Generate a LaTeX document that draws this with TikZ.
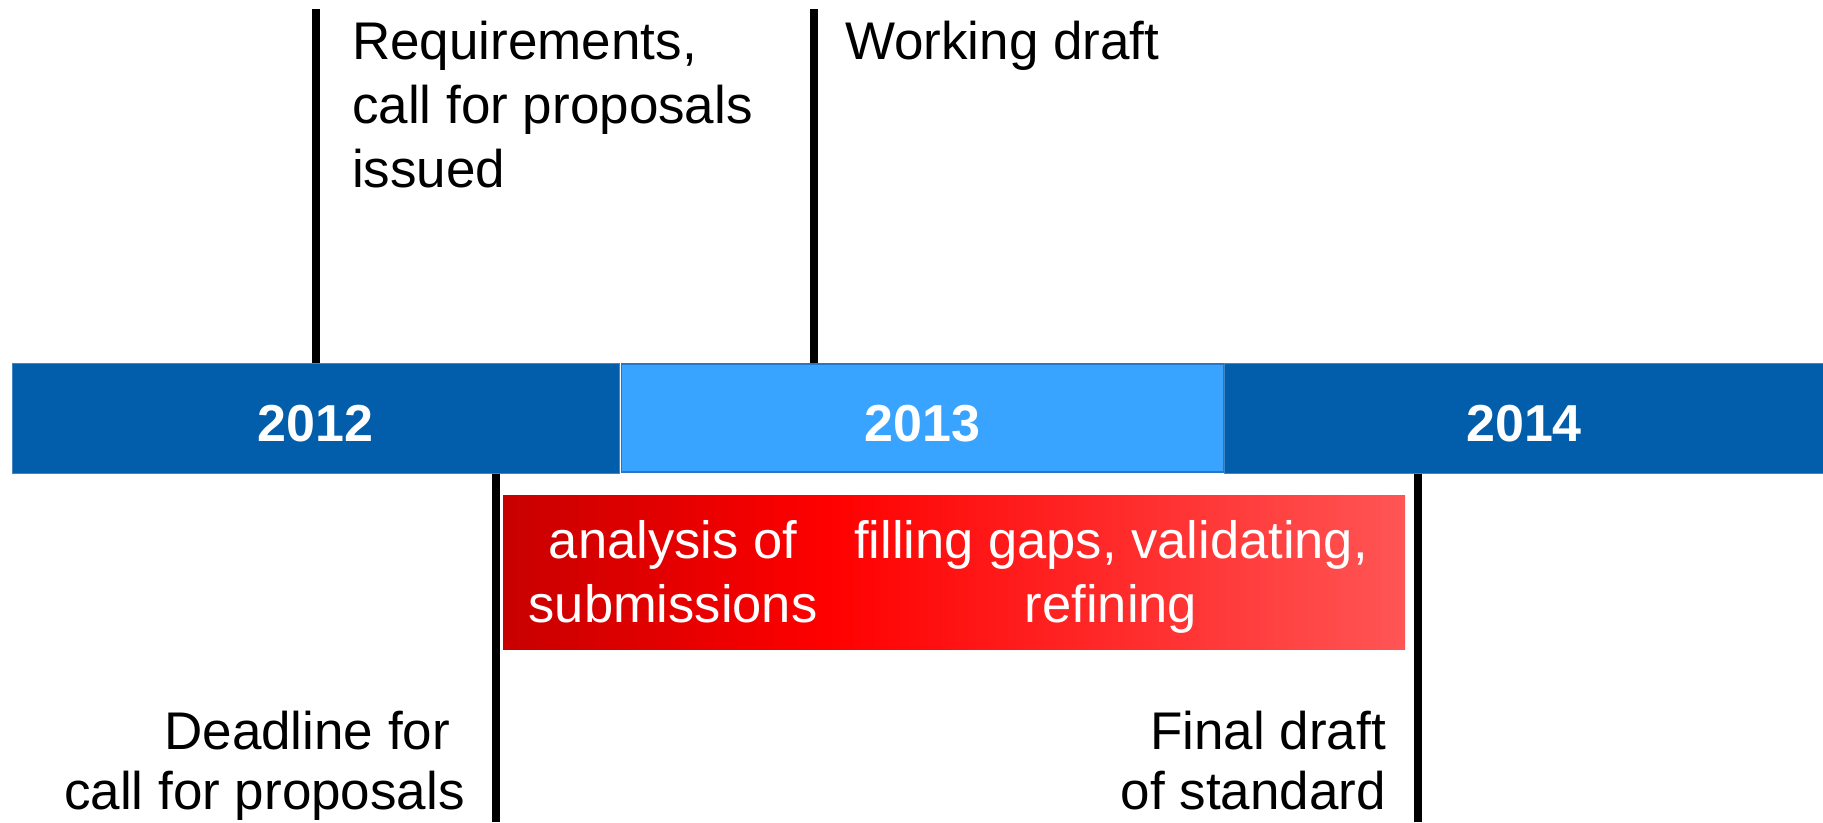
\documentclass[tikz,border=0pt]{standalone}
\usepackage{fontspec}
\setmainfont{Liberation Sans}
\definecolor{bardark}{HTML}{025EAB}
\definecolor{barlight}{HTML}{38A4FF}
\definecolor{barline}{HTML}{2A75C4}
\definecolor{redA}{HTML}{C80000}
\definecolor{redB}{HTML}{FF0000}
\definecolor{redC}{HTML}{FF5555}
\pgfdeclarehorizontalshading{redgrad}{100bp}{color(0bp)=(redA); color(25bp)=(redA); color(43.1bp)=(redB); color(75bp)=(redC); color(100bp)=(redC)}
\tikzset{
  yearbox/.style={rectangle, inner sep=0pt, minimum height=110pt, text=white,
    font=\fontsize{52}{60}\selectfont\bfseries, text height=47pt, text depth=0pt},
  tick/.style={line width=7.5pt, black},
  toplbl/.style={inner sep=0pt, font=\fontsize{53}{64}\selectfont},
  botlbl/.style={inner sep=0pt, font=\fontsize{53}{60}\selectfont},
  redlbl/.style={inner sep=0pt, text=white, align=center, font=\fontsize{52.5}{64}\selectfont},
}
\begin{document}
\begin{tikzpicture}[x=1pt,y=-1pt]
\useasboundingbox[fill=white] (0,0) rectangle (1823,822);
% year bar
\node[yearbox, fill=bardark, draw=bardark!75!white, line width=1pt, minimum width=607pt] (y2012) at (315.5,418) {2012};
\node[yearbox, fill=bardark, draw=bardark!75!white, line width=1pt, minimum width=600pt] (y2014) at (1524,418) {2014};
\node[yearbox, fill=barlight, draw=barline, line width=1.5pt, minimum width=602pt, minimum height=108pt] (y2013) at (922.5,418) {2013};
% work phase box
\node[rectangle, inner sep=0pt, minimum width=902pt, minimum height=154pt, shading=redgrad] (work) at (954,572) {};
\node[redlbl, anchor=base] (ana) at (673,622) {analysis of\\submissions};
\node[redlbl, anchor=base] (fill) at (1111,622) {filling gaps, validating,\\refining};
% milestones
\coordinate (r1) at (316,9);
\coordinate (r2) at (814,9);
\coordinate (b1) at (496,822);
\coordinate (b2) at (1418,822);
\draw[tick] (r1) -- (r1 |- y2012.north);
\draw[tick] (r2) -- (r2 |- y2013.north);
\draw[tick] (y2012.south -| b1) -- (b1);
\draw[tick] (y2014.south -| b2) -- (b2);
% labels
\node[toplbl, anchor=base west, align=left] (req) at (352,187) {Requirements,\\call for proposals\\issued};
\node[toplbl, anchor=base west] (wd) at (845,59) {Working draft};
\node[botlbl, anchor=base east, align=right] (dl) at (465,809) {Deadline for\kern0.278em\\call for proposals};
\node[botlbl, anchor=base east, align=right] (fd) at (1386,809) {Final draft\\of standard};
\end{tikzpicture}
\end{document}
